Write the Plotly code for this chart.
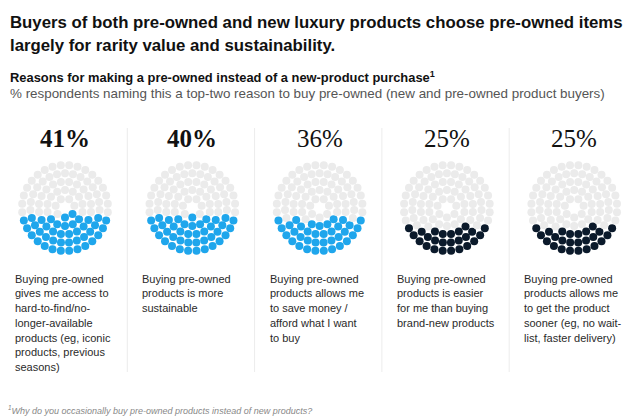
import math
import plotly.graph_objects as go

# ---- data ----
percent_values = [41, 40, 36, 25, 25]
percent_labels = ["41%", "40%", "36%", "25%", "25%"]
reason_lines = [
    ["Buying pre-owned", "gives me access to", "hard-to-find/no-", "longer-available",
     "products (eg, iconic", "products, previous", "seasons)"],
    ["Buying pre-owned", "products is more", "sustainable"],
    ["Buying pre-owned", "products allows me", "to save money /", "afford what I want", "to buy"],
    ["Buying pre-owned", "products is easier", "for me than buying", "brand-new products"],
    ["Buying pre-owned", "products allows me", "to get the product", "sooner (eg, no wait-", "list, faster delivery)"],
]
title_lines = ["Buyers of both pre-owned and new luxury products choose pre-owned items",
               "largely for rarity value and sustainability."]
subtitle = "Reasons for making a pre-owned instead of a new-product purchase<sup>1</sup>"
subtitle2 = "% respondents naming this a top-two reason to buy pre-owned (new and pre-owned product buyers)"
footnote = "<sup>1</sup>Why do you occasionally buy pre-owned products instead of new products?"

# ---- styles / layout ----
OFF = 8  # page body margin
W, H = 640 - OFF, 419 - OFF
fill_colors = ["#1fa6ec", "#1fa6ec", "#1fa6ec", "#0b1a2b", "#0b1a2b"]
bold_flags = [True, True, False, False, False]
empty_color = "#ebebeb"
panel_w = 127.3
cx0 = 65
cy_px = 208
half = 50
ring_counts = [7, 14, 20, 27, 32]
ring_step = 8.35
outer_r = 43.0


def px(x):
    return (x - OFF) / W


def py(y):
    return 1 - (y - OFF) / H


def ring_points():
    pts = []
    n_r = len(ring_counts)
    for k, n in enumerate(ring_counts):
        r = outer_r - ring_step * (n_r - 1 - k)
        off = math.pi / 2 + (math.pi / n if k % 2 == 0 else 0.0)
        for j in range(n):
            a = off + 2 * math.pi * j / n
            pts.append((r * math.cos(a), r * math.sin(a)))
    return pts


pts = ring_points()
order = sorted(range(len(pts)), key=lambda i: (pts[i][1], pts[i][0]))

fig = go.Figure()
layout_axes = {}
annotations = []
shapes = []
for p, pct in enumerate(percent_values):
    n_fill = round(pct / 100 * len(pts))
    filled = set(order[:n_fill])
    colors = [fill_colors[p] if i in filled else empty_color for i in range(len(pts))]
    sfx = "" if p == 0 else str(p + 1)
    fig.add_trace(go.Scatter(
        x=[q[0] for q in pts], y=[q[1] for q in pts], mode="markers",
        marker=dict(size=8, color=colors, line=dict(width=0)),
        xaxis="x" + sfx, yaxis="y" + sfx, hoverinfo="skip", showlegend=False))
    cx = cx0 + panel_w * p
    layout_axes["xaxis" + sfx] = dict(domain=[px(cx - half), px(cx + half)], range=[-half, half],
                                      visible=False, fixedrange=True)
    layout_axes["yaxis" + sfx] = dict(domain=[py(cy_px + half), py(cy_px - half)],
                                      range=[-half, half], visible=False, fixedrange=True)
    annotations.append(dict(
        x=px(cx), y=py(139), xref="paper", yref="paper", xanchor="center", yanchor="middle",
        text=("<b>%s</b>" % percent_labels[p]) if bold_flags[p] else percent_labels[p],
        showarrow=False, font=dict(family="Liberation Serif", size=25, color="#111111")))
    tx = cx - 52
    for li, line in enumerate(reason_lines[p]):
        annotations.append(dict(
            x=px(tx), y=py(278.7 + 14.7 * li), xref="paper", yref="paper",
            xanchor="left", yanchor="middle", text=line, showarrow=False,
            font=dict(family="Liberation Sans", size=11, color="#2a2a2a")))
    if p > 0:
        dx = panel_w * p
        shapes.append(dict(type="line", xref="paper", yref="paper", x0=px(dx), x1=px(dx),
                           y0=py(128), y1=py(372), line=dict(color="#ececec", width=1)))

for li, t in enumerate(title_lines):
    annotations.append(dict(x=px(8), y=py(22.5 + 23 * li), xref="paper", yref="paper",
                            xanchor="left", yanchor="middle", text="<b>%s</b>" % t, showarrow=False,
                            font=dict(family="Liberation Sans", size=16.8, color="#111111")))
annotations.append(dict(x=px(8), y=py(77), xref="paper", yref="paper", xanchor="left",
                        yanchor="middle", text="<b>%s</b>" % subtitle, showarrow=False,
                        font=dict(family="Liberation Sans", size=12.9, color="#111111")))
annotations.append(dict(x=px(8), y=py(94), xref="paper", yref="paper", xanchor="left",
                        yanchor="middle", text=subtitle2, showarrow=False,
                        font=dict(family="Liberation Sans", size=13.4, color="#555555")))
annotations.append(dict(x=px(6), y=py(410), xref="paper", yref="paper", xanchor="left",
                        yanchor="middle", text="<i>%s</i>" % footnote, showarrow=False,
                        font=dict(family="Liberation Sans", size=9, color="#888888")))

fig.update_layout(width=W, height=H, margin=dict(l=0, r=0, t=0, b=0),
                  paper_bgcolor="white", plot_bgcolor="white",
                  annotations=annotations, shapes=shapes, **layout_axes)
fig.write_html("out.html", config={"displayModeBar": False})
